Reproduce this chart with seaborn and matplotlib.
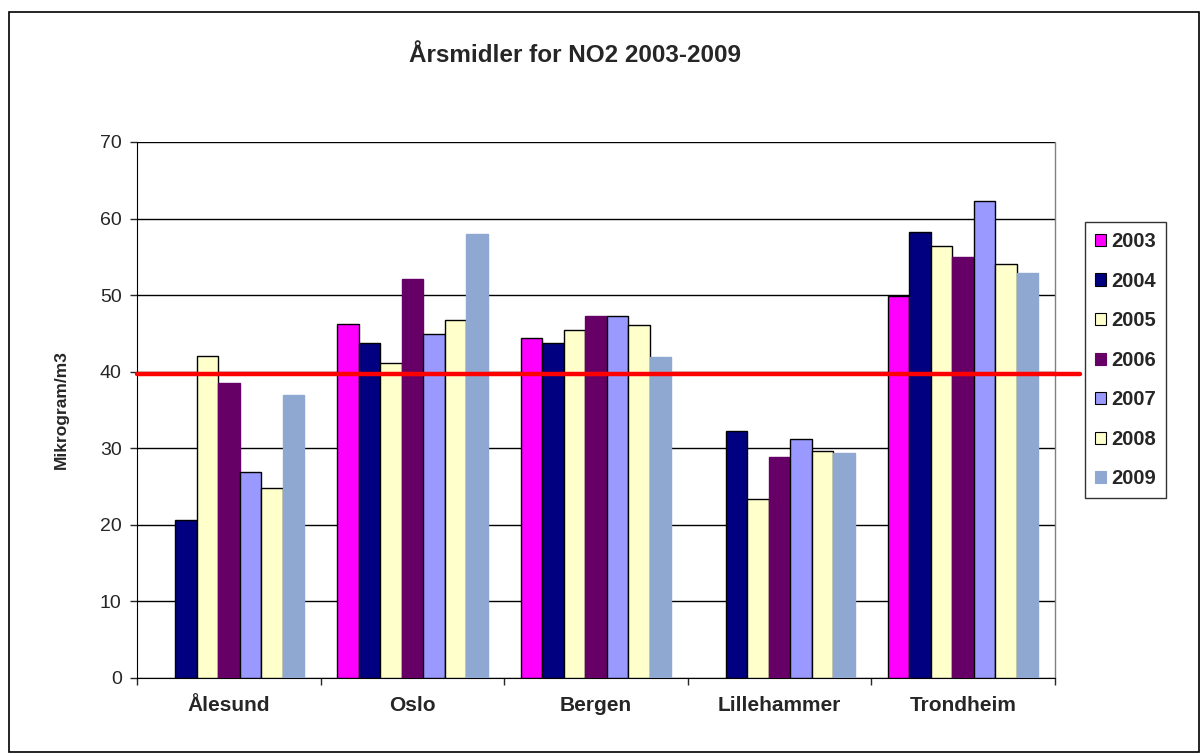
import numpy as np
import pandas as pd
import matplotlib
matplotlib.use("Agg")
import matplotlib.pyplot as plt
import seaborn as sns
from matplotlib.patches import Patch, Rectangle

# Annual NO2 means per city (NaN = no measurement)
cities = ["Ålesund", "Oslo", "Bergen", "Lillehammer", "Trondheim"]
years = ["2003", "2004", "2005", "2006", "2007", "2008", "2009"]
v2003 = [np.nan, 46.2, 44.4, np.nan, 49.9]
v2004 = [20.6, 43.7, 43.7, 32.3, 58.2]
v2005 = [42.0, 41.2, 45.4, 23.4, 56.4]
v2006 = [38.5, 52.1, 47.3, 28.9, 55.0]
v2007 = [26.9, 44.9, 47.3, 31.2, 62.3]
v2008 = [24.8, 46.7, 46.1, 29.6, 54.1]
v2009 = [37.0, 58.0, 41.9, 29.4, 52.9]
limit_value = 39.7

colors = ["#FF00FF", "#000080", "#FFFFCC", "#660066", "#9999FF", "#FFFFCC", "#8FA8D2"]
edges = ["black", "black", "black", "#660066", "black", "black", "#8FA8D2"]

series = [v2003, v2004, v2005, v2006, v2007, v2008, v2009]
rows = []
for yr, vals in zip(years, series):
    for c, v in zip(cities, vals):
        rows.append({"city": c, "year": yr, "value": v})
df = pd.DataFrame(rows)

sns.set_style("white")
plt.rcParams["font.family"] = ["Liberation Sans", "DejaVu Sans"]

fig = plt.figure(figsize=(12.03, 7.55), dpi=100)
ax = fig.add_axes([137 / 1203, 1 - 678 / 755, 918 / 1203, 536 / 755])

sns.barplot(data=df, x="city", y="value", hue="year", hue_order=years,
            order=cities, palette=colors, saturation=1, width=0.82, gap=0,
            dodge=True, legend=False, ax=ax, zorder=3)

# edge colours per hue
for cont, ec in zip(ax.containers, edges):
    for bar in cont:
        bar.set_edgecolor(ec)
        bar.set_linewidth(1.0)

ax.set_ylim(0, 70)
ax.set_xlim(-0.5, len(cities) - 0.5)
ax.set_yticks(range(0, 71, 10))
ax.yaxis.grid(True, color="black", linewidth=1.0, zorder=0)
ax.set_axisbelow(True)

for side in ["top", "right"]:
    ax.spines[side].set_visible(False)
ax.spines["left"].set_color("black")
ax.spines["bottom"].set_color("black")
ax.plot([1, 1], [0, 1], transform=ax.transAxes, color="#808080", lw=1, clip_on=False)

ax.tick_params(axis="y", labelsize=14, length=5, width=1, direction="out", left=True, pad=6)
ax.tick_params(axis="x", which="major", length=0, labelsize=15, pad=13)
for lbl in ax.get_xticklabels():
    lbl.set_fontweight("bold")
ax.set_xticks(np.arange(-0.5, len(cities) + 0.5, 1), minor=True)
ax.tick_params(axis="x", which="minor", length=5, width=1, direction="out", bottom=True)

ax.set_xlabel("")
ax.set_ylabel("Mikrogram/m3", fontsize=12.5, fontweight="bold", labelpad=22)

# limit line
ax.axhline(limit_value, xmin=0, xmax=1.027, color="#FF0000", lw=3.2, zorder=5, clip_on=False)

fig.text(575 / 1203, 1 - 55 / 755, "Årsmidler for NO2 2003-2009",
         ha="center", va="center", fontsize=17.5, fontweight="bold")

handles = [Patch(facecolor=c, edgecolor=("black" if e == "black" else c), linewidth=0.8)
           for c, e in zip(colors, edges)]
leg = fig.legend(handles, years, loc="upper left",
                 bbox_to_anchor=(1085 / 1203, 1 - 222 / 755),
                 frameon=True, fancybox=False, edgecolor="black",
                 prop={"size": 14.5, "weight": "bold"},
                 handlelength=0.55, handleheight=0.55, handletextpad=0.25,
                 labelspacing=1.02, borderpad=0.5, borderaxespad=0)
leg.get_frame().set_linewidth(1.0)

# outer chart border
fig.patches.append(Rectangle((9 / 1203, 0.004), 1190 / 1203, 1 - 12 / 755 - 0.004,
                             transform=fig.transFigure, fill=False,
                             edgecolor="black", linewidth=1.2))

fig.savefig("out.png", dpi=100)
